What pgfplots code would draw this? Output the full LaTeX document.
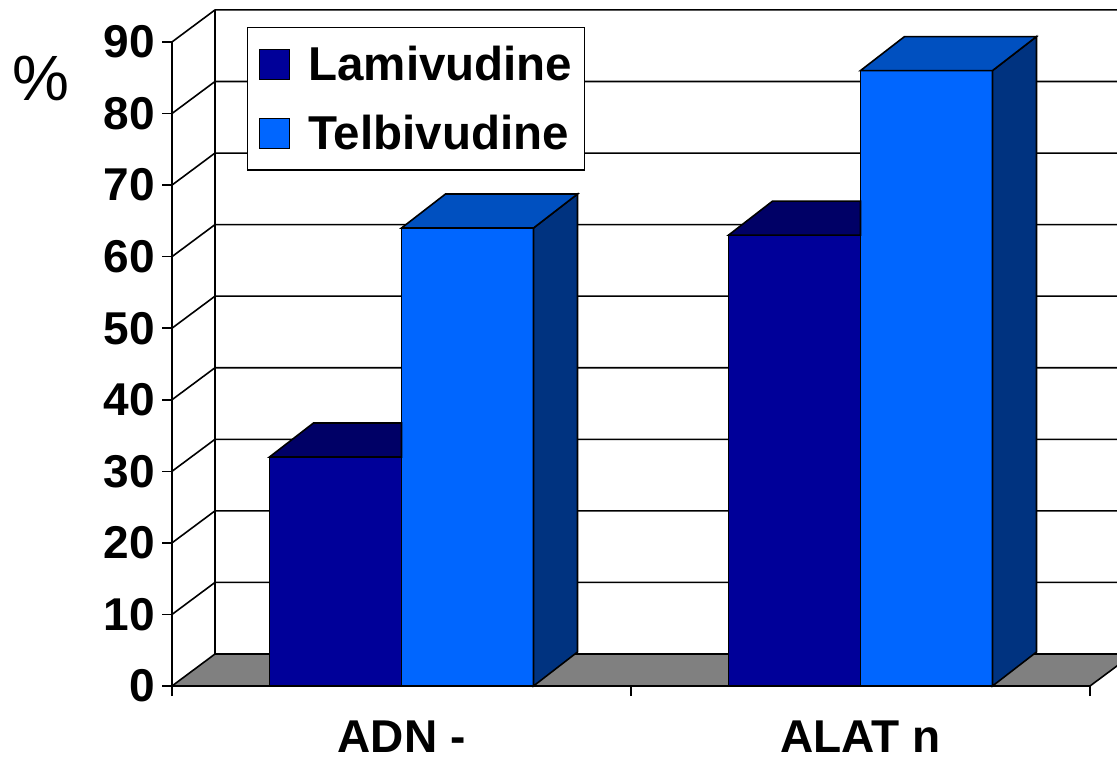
\documentclass[border=0pt]{standalone}
\usepackage{fontspec}
\setmainfont{Liberation Sans}
\usepackage{pgfplots}
\pgfplotsset{compat=1.18}
\usepackage{pgfplotstable}
\usetikzlibrary{calc}

\definecolor{lamFront}{HTML}{000099}
\definecolor{lamTop}{HTML}{000066}
\definecolor{telFront}{HTML}{0066FF}
\definecolor{telTop}{HTML}{0050C0}
\definecolor{telSide}{HTML}{003380}
\definecolor{floorGray}{HTML}{808080}

\pgfplotstableread{
x lam tel
0 32 64
1 63 86
}\rates

% top and right faces of a 3d column, drawn as a mark at its front top right corner
\pgfdeclareplotmark{telcube}{%
  \pgfmathsetmacro\cubeh{\val*3.578}%
  \pgfsetlinewidth{0.8pt}%
  \pgfsetstrokecolor{black}%
  \pgfsetfillcolor{telSide}%
  \pgfpathmoveto{\pgfpoint{0pt}{0pt}}%
  \pgfpathlineto{\pgfpoint{22pt}{17pt}}%
  \pgfpathlineto{\pgfpoint{22pt}{17pt-\cubeh pt}}%
  \pgfpathlineto{\pgfpoint{0pt}{-\cubeh pt}}%
  \pgfpathclose
  \pgfusepath{fill,stroke}%
  \pgfsetfillcolor{telTop}%
  \pgfpathmoveto{\pgfpoint{-66pt}{0pt}}%
  \pgfpathlineto{\pgfpoint{0pt}{0pt}}%
  \pgfpathlineto{\pgfpoint{22pt}{17pt}}%
  \pgfpathlineto{\pgfpoint{-44pt}{17pt}}%
  \pgfpathclose
  \pgfusepath{fill,stroke}%
}
% the left column: only the part of its top face that the right column leaves visible
\pgfdeclareplotmark{lamcube}{%
  \pgfsetlinewidth{0.8pt}%
  \pgfsetstrokecolor{black}%
  \pgfsetfillcolor{lamTop}%
  \pgfpathmoveto{\pgfpoint{-66pt}{0pt}}%
  \pgfpathlineto{\pgfpoint{0pt}{0pt}}%
  \pgfpathlineto{\pgfpoint{0pt}{17pt}}%
  \pgfpathlineto{\pgfpoint{-44pt}{17pt}}%
  \pgfpathclose
  \pgfusepath{fill,stroke}%
}

\begin{document}
\begin{tikzpicture}
\path[use as bounding box] (0,0) rectangle (558.5pt,379.5pt);
\begin{axis}[
    at={(86pt,36.5pt)}, anchor=south west,
    x=229.5pt, y=3.578pt,
    xmin=-0.5, xmax=1.5, ymin=0, ymax=90,
    enlargelimits=false, clip=false,
    axis x line*=bottom, axis y line*=left,
    axis line style={line width=0.8pt, black},
    tick align=outside, major tick length=5pt,
    major tick style={line width=0.8pt, black},
    xtick={-0.5,0.5,1.5}, xticklabels={},
    extra x ticks={0,1},
    extra x tick labels={ADN -, ALAT n},
    extra x tick style={major tick length=0pt,
        xticklabel style={inner sep=0pt, anchor=north, yshift=-17pt}},
    ytick={0,10,...,90},
    yticklabel style={inner sep=0pt, xshift=-3.5pt},
    tick label style={font=\fontsize{23}{25}\selectfont\bfseries},
    /pgf/number format/assume math mode=true,
    ylabel={\%},
    every axis y label/.style={at={(rel axis cs:-0.1427,0.944)}, anchor=center,
        font=\fontsize{32}{34}\selectfont},
    legend style={at={(rel axis cs:0.0817,1.0233)}, anchor=north west,
        draw=black, line width=0.75pt, fill=white,
        font=\fontsize{23.75}{26}\selectfont\bfseries,
        inner xsep=5.5pt, inner ysep=7pt, row sep=11.75pt, column sep=8.5pt,
        nodes={inner xsep=0.5pt, inner ysep=2pt}},
    legend cell align=left,
]
% back wall and left wall grid
\draw[line width=0.8pt] ($(axis cs:-0.5,0)+(21.5pt,16pt)$) -- ($(axis cs:-0.5,90)+(21.5pt,16pt)$);
\pgfplotsinvokeforeach{10,20,30,40,50,60,70,80,90}{
  \draw[line width=0.8pt] (axis cs:-0.5,#1) -- ++(21.5pt,16pt) -- ($(axis cs:2,#1)+(21.5pt,16pt)$);
}
% floor
\draw[fill=floorGray, line width=0.8pt] (axis cs:-0.5,0) -- (axis cs:1.5,0)
  -- ($(axis cs:1.5,0)+(21.5pt,16pt)$) -- ($(axis cs:-0.5,0)+(21.5pt,16pt)$) -- cycle;

\addplot[forget plot, scatter, only marks, mark=lamcube,
    scatter/@pre marker code/.code={\scope},
    scatter/@post marker code/.code={\endscope}]
    table[x=x, y=lam] {\rates};
\addplot[ybar, bar width=0.2876, bar shift=-0.1438,
    fill=lamFront, draw=black, line width=0.8pt,
    legend image code/.code={\draw[fill=lamFront, line width=0.8pt] (1.5pt,-7.5pt) rectangle (16.5pt,7.5pt);}]
    table[x=x, y=lam] {\rates};
\addlegendentry{Lamivudine}

\addplot[forget plot, scatter, only marks, mark=telcube,
    visualization depends on={rawy \as \val},
    scatter/@pre marker code/.code={\scope},
    scatter/@post marker code/.code={\endscope}]
    table[x expr=\thisrow{x}+0.2876, y=tel] {\rates};
\addplot[ybar, bar width=0.2876, bar shift=0.1438,
    fill=telFront, draw=black, line width=0.8pt,
    legend image code/.code={\draw[fill=telFront, line width=0.8pt] (1.5pt,-7.5pt) rectangle (16.5pt,7.5pt);}]
    table[x=x, y=tel] {\rates};
\addlegendentry{Telbivudine}
\end{axis}
\end{tikzpicture}
\end{document}
